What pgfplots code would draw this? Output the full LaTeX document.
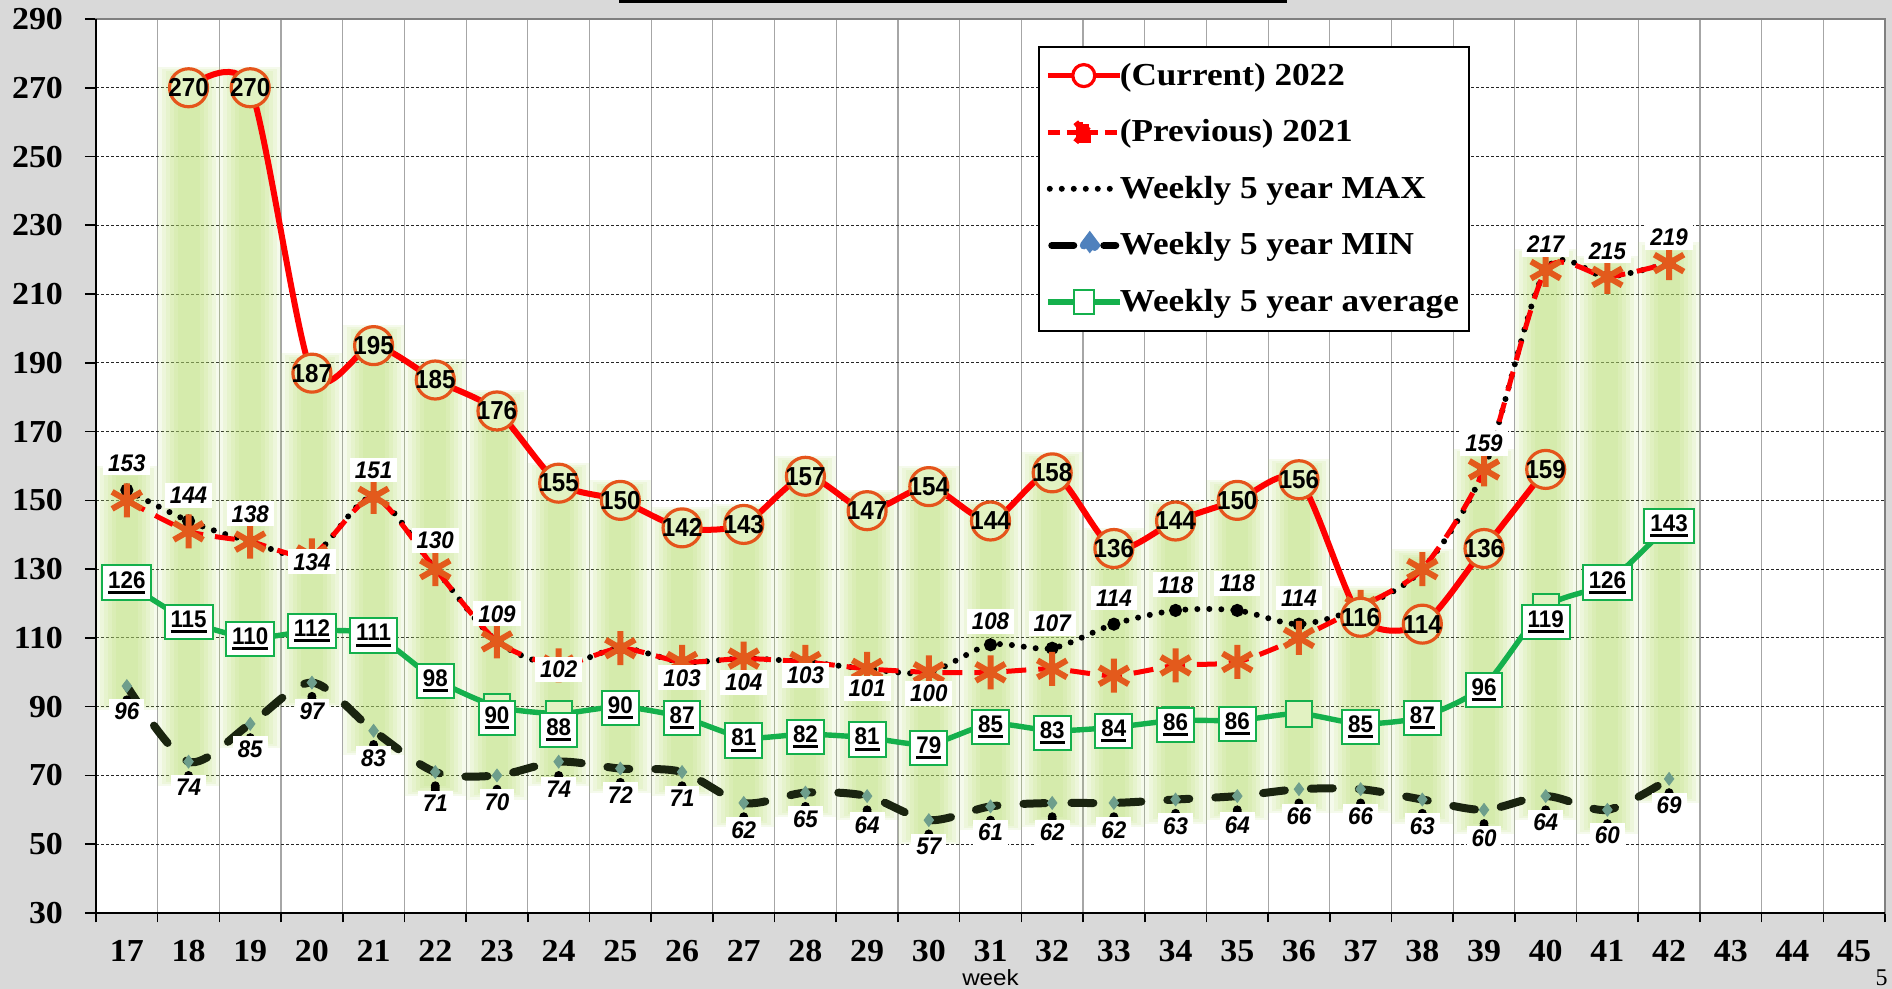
\documentclass[border=0pt]{standalone}
\usepackage{fontspec}
\setmainfont{Liberation Serif}
\newfontfamily\tickfont[FakeStretch=1.06]{Liberation Serif}
\newfontfamily\legfont[FakeStretch=1.1]{Liberation Serif}
\newfontfamily\lblfont[FakeStretch=0.93]{Liberation Sans}
\newfontfamily\wkfont[FakeStretch=1.1]{Liberation Sans}
\usepackage{pgfplots}
\usepackage{pgfplotstable}
\pgfplotsset{compat=1.18}

\definecolor{bggray}{HTML}{D9D9D9}
\definecolor{glow}{HTML}{B8E070}
\definecolor{curred}{HTML}{FF0000}
\definecolor{circ}{HTML}{E5541B}
\definecolor{prevx}{HTML}{E35A1C}
\definecolor{avggreen}{HTML}{14B04C}
\definecolor{mindark}{HTML}{1A2410}
\definecolor{maxolive}{HTML}{34501A}
\definecolor{diam}{HTML}{6E9E8C}
\definecolor{lime}{HTML}{E2F2C2}
\definecolor{legblue}{HTML}{4F81BD}

\newcommand\ulbox[1]{\setbox0\hbox{#1}\rlap{\raisebox{-2.8pt}{\rule{\wd0}{1.5pt}}}\box0}

\pgfplotstableread{
w cur prev max min avg
17 nan 150 153 96 126
18 270 141 144 74 115
19 270 138 138 85 110
20 187 134 134 97 112
21 195 151 151 83 111
22 185 130 130 71 98
23 176 109 109 70 90
24 155 102 102 74 88
25 150 107 107 72 90
26 142 103 103 71 87
27 143 104 104 62 81
28 157 103 103 65 82
29 147 101 101 64 81
30 154 100 100 57 79
31 144 100 108 61 85
32 158 101 107 62 83
33 136 99 114 62 84
34 144 102 118 63 86
35 150 103 118 64 86
36 156 110 114 66 88
37 116 119 119 66 85
38 114 130 130 63 87
39 136 159 159 60 96
40 159 217 217 64 119
41 nan 215 215 60 126
42 nan 219 219 69 143
}\data

% glow band (visual extent of the shaded column behind each week)
\pgfplotstableread{
w lo hi
17 92 157
18 70 273
19 81 273
20 93 190
21 79 198
22 67 188
23 66 179
24 70 158
25 68 153
26 67 145
27 58 146
28 61 160
29 60 150
30 53 157
31 57 147
32 58 161
33 58 139
34 59 147
35 60 153
36 62 159
37 62 122
38 59 133
39 56 162
40 60 220
41 56 218
42 65 222
}\glowtab

% label positions
\pgfplotstableread{
w ly v
17 160.9 153
18 151.4 144
19 146.1 138
20 132.1 134
21 158.8 151
22 138.4 130
23 117.0 109
24 100.9 102
26 98.4 103
27 97.0 104
28 99.1 103
29 95.3 101
30 93.9 100
31 114.9 108
32 114.2 107
33 121.6 114
34 125.4 118
35 125.8 118
36 121.6 114
39 166.5 159
40 224.4 217
41 222.6 215
42 226.5 219
}\maxlbl

\pgfplotstableread{
w ly v
17 88.6 96
18 66.5 74
19 77.7 85
20 88.6 97
21 74.9 83
22 62.0 71
23 62.3 70
24 66.0 74
25 64.4 72
26 63.3 71
27 54.2 62
28 57.4 65
29 55.6 64
30 49.3 57
31 53.5 61
32 53.5 62
33 54.2 62
34 55.3 63
35 55.6 64
36 58.0 66
37 58.0 66
38 55.3 63
39 51.8 60
40 56.3 64
41 52.5 60
42 61.2 69
}\minlbl

\pgfplotstableread{
w ly v
17 126.1 126
18 114.6 115
19 109.6 110
20 112.0 112
21 110.7 111
22 97.4 98
23 86.8 90
24 83.3 88
25 89.6 90
26 86.8 87
27 80.2 81
28 81.2 82
29 80.5 81
30 78.0 79
31 84.0 85
32 82.3 83
33 83.0 84
34 84.7 86
35 85.0 86
37 84.0 85
38 86.8 87
39 94.9 96
40 114.6 119
41 126.1 126
42 142.6 143
}\avglbl

\pgfplotsset{
  glowlayer/.style n args={2}{only marks, mark=none, forget plot,
    error bars/.cd, y dir=plus, y explicit, error mark=none,
    error bar style={line width=#1, draw=glow, draw opacity=0.13}},
}

\begin{document}
\begin{tikzpicture}
\useasboundingbox (0,0) rectangle (946pt,494.5pt);
\fill[bggray] (0,0) rectangle (946pt,494.5pt);
\fill[black] (309.5pt,493pt) rectangle (643.5pt,494.5pt);
\node[font=\fontsize{12}{12}\selectfont, anchor=base east, inner sep=0pt] at (944pt,1.5pt) {5};
\begin{axis}[
  at={(48pt,38pt)}, anchor=south west,
  scale only axis, width=894.5pt, height=447pt,
  xmin=16.5, xmax=45.5, ymin=30, ymax=290,
  axis background/.style={fill=white},
  axis line style={draw=gray, line width=0.8pt},
  xtick={17,...,45},
  minor xtick={16.5,17.5,...,45.5},
  ytick={30,50,...,290},
  tick pos=left, tick align=outside,
  major x tick style={draw=none},
  minor x tick style={draw=black, line width=0.8pt},
  minor tick length=4.7pt,
  major tick length=5.5pt,
  ytick style={draw=black, line width=0.8pt},
  xminorgrids=true, ymajorgrids=true,
  minor x grid style={gray!70, line width=0.6pt},
  y grid style={black!85, dash pattern=on 1.5pt off 1pt, line width=0.5pt},
  /pgf/number format/assume math mode=true,
  ticklabel style={font=\tickfont\bfseries\fontsize{16}{16}\selectfont},
  xticklabel style={inner sep=0pt, yshift=-7.9pt},
  yticklabel style={xshift=-7.5pt},
  xlabel={week},
  xlabel style={font=\wkfont\fontsize{11}{11}\selectfont, at={(axis description cs:0.5,0)}, anchor=center, yshift=-32.5pt, inner sep=0pt},
  clip=false,
  reverse legend,
  legend style={at={(0.5266,0.9698)}, anchor=north west, draw=black, line width=1pt, fill=white,
    font=\legfont\bfseries\fontsize{16}{18}\selectfont, row sep=11.7pt, inner xsep=3pt, inner ysep=6pt,
    /tikz/every odd column/.append style={column sep=-3.5pt}},
  legend cell align=left,
]

% glow columns
\addplot[glowlayer={31pt}{}] table[x=w, y expr=\thisrow{lo}-3, y error plus expr=\thisrow{hi}-\thisrow{lo}+6] {\glowtab};
\addplot[glowlayer={27pt}{}] table[x=w, y expr=\thisrow{lo}-2.4, y error plus expr=\thisrow{hi}-\thisrow{lo}+4.8] {\glowtab};
\addplot[glowlayer={23pt}{}] table[x=w, y expr=\thisrow{lo}-1.8, y error plus expr=\thisrow{hi}-\thisrow{lo}+3.6] {\glowtab};
\addplot[glowlayer={19pt}{}] table[x=w, y expr=\thisrow{lo}-1.2, y error plus expr=\thisrow{hi}-\thisrow{lo}+2.4] {\glowtab};
\addplot[glowlayer={15pt}{}] table[x=w, y expr=\thisrow{lo}-0.6, y error plus expr=\thisrow{hi}-\thisrow{lo}+1.2] {\glowtab};
\addplot[glowlayer={11pt}{}] table[x=w, y=lo, y error plus expr=\thisrow{hi}-\thisrow{lo}] {\glowtab};

% average
\addplot[avggreen, line width=2.7pt, smooth, tension=0.4, mark=square*, mark size=6.5pt,
  mark options={draw=avggreen, fill=lime, line width=1pt},
  legend image code/.code={\draw[avggreen, line width=2.7pt] (0pt,0pt) -- (36pt,0pt);
    \draw[avggreen, fill=white, line width=1pt] (13pt,-6pt) rectangle (23pt,6pt);}]
  table[x=w, y=avg] {\data};
\addlegendentry{Weekly 5 year average}

% min
\addplot[mindark, line width=4pt, line cap=round, dash pattern=on 11pt off 13pt, smooth, tension=0.5,
  mark=diamond*, mark size=3.2pt, mark options={solid, fill=diam, draw=diam, line width=0.4pt},
  legend image code/.code={\draw[black, line width=3.5pt, line cap=round] (2pt,0pt) -- (14pt,0pt);
    \fill[legblue] (18pt,0pt) -- (21pt,4pt) -- (24pt,0pt) -- (21pt,-4pt) -- cycle;
    \draw[black, line width=3.5pt, line cap=round] (28pt,0pt) -- (34pt,0pt);}]
  table[x=w, y=min] {\data};
\addlegendentry{Weekly 5 year MIN}

% max
\addplot[black, line width=3pt, line cap=round, dash pattern=on 0pt off 6pt, smooth, tension=0.5,
  mark=*, mark size=1.7pt, mark options={solid, fill=maxolive, draw=none},
  legend image code/.code={\draw[black, line width=3pt, line cap=round, dash pattern=on 0pt off 6pt] (1pt,0pt) -- (36pt,0pt);}]
  table[x=w, y=max] {\data};
\addlegendentry{Weekly 5 year MAX}

% previous
\addplot[curred, line width=2.5pt, dash pattern=on 10pt off 6pt, smooth, tension=0.4,
  mark=asterisk, mark size=8.5pt, mark options={solid, draw=prevx, line width=3pt},
  legend image code/.code={\draw[curred, line width=2.5pt, dash pattern=on 6pt off 3.5pt] (0pt,0pt) -- (36pt,0pt);
    \draw[curred, line width=3pt] (14pt,-5pt) -- (22pt,5pt) (14pt,5pt) -- (22pt,-5pt);
    \fill[curred] (15.5pt,-4pt) rectangle (20.5pt,4pt);}]
  table[x=w, y=prev] {\data};
\addlegendentry{(Previous) 2021}

% current
\addplot[curred, line width=3pt, smooth, tension=0.45, mark=*, mark size=9.5pt,
  mark options={draw=circ, fill=lime, line width=1.6pt, solid},
  legend image code/.code={\draw[curred, line width=2.7pt] (0pt,0pt) -- (36pt,0pt);
    \draw[curred, fill=white, line width=1.6pt] (18pt,0pt) circle (5.5pt);}]
  table[x=w, y=cur] {\data};
\addlegendentry{(Current) 2022}

% labels
\addplot[only marks, mark=none, forget plot, nodes near coords, point meta=explicit symbolic,
  every node near coord/.append style={anchor=center, font=\lblfont\bfseries\itshape\fontsize{12}{12}\selectfont,
    text=black, fill=white, inner xsep=2.5pt, inner ysep=2pt}]
  table[x=w, y=ly, meta=v] {\maxlbl};
\addplot[only marks, mark=none, forget plot, nodes near coords, point meta=explicit symbolic,
  every node near coord/.append style={anchor=center, font=\lblfont\bfseries\itshape\fontsize{12}{12}\selectfont,
    text=black, fill=white, inner xsep=2.5pt, inner ysep=2pt}]
  table[x=w, y=ly, meta=v] {\minlbl};
\addplot[only marks, mark=none, forget plot, nodes near coords={\ulbox{\pgfplotspointmeta}}, point meta=explicit symbolic,
  every node near coord/.append style={anchor=center, font=\lblfont\bfseries\fontsize{12}{12}\selectfont,
    text=black, fill=white, draw=avggreen, line width=1pt, inner xsep=3pt, inner ysep=3pt}]
  table[x=w, y=ly, meta=v] {\avglbl};
\addplot[only marks, mark=none, forget plot, nodes near coords, point meta=explicit symbolic,
  every node near coord/.append style={anchor=center, font=\lblfont\bfseries\fontsize{13}{13}\selectfont,
    text=black, inner sep=0pt}]
  table[x=w, y=cur, meta=cur] {\data};

\draw[black, line width=1.2pt] (rel axis cs:0,1) -- (rel axis cs:0,0) -- (rel axis cs:1,0);
\end{axis}
\end{tikzpicture}
\end{document}
